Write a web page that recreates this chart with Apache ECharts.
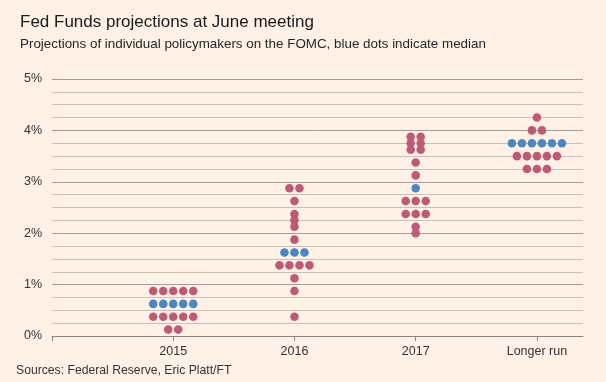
<!DOCTYPE html>
<html>
<head>
<meta charset="utf-8">
<script src="https://cdn.jsdelivr.net/npm/echarts@6/dist/echarts.min.js"></script>
<style>
html,body{margin:0;padding:0;background:#fff1e5;}
#chart{width:606px;height:382px;}
</style>
</head>
<body>
<div id="chart"></div>
<script>
// Categories (x axis)
const categories = ['2015', '2016', '2017', 'Longer run'];
// Individual policymaker projections (%), one entry per dot
const dots2015 = [0.125, 0.125, 0.375, 0.375, 0.375, 0.375, 0.375, 0.625, 0.625, 0.625, 0.625, 0.625, 0.875, 0.875, 0.875, 0.875, 0.875];
const dots2016 = [0.375, 0.875, 1.125, 1.375, 1.375, 1.375, 1.375, 1.625, 1.625, 1.625, 1.875, 2.125, 2.25, 2.375, 2.625, 2.875, 2.875];
const dots2017 = [2.0, 2.125, 2.375, 2.375, 2.375, 2.625, 2.625, 2.625, 2.875, 3.125, 3.375, 3.625, 3.625, 3.75, 3.75, 3.875, 3.875];
const dotsLonger = [3.25, 3.25, 3.25, 3.5, 3.5, 3.5, 3.5, 3.5, 3.75, 3.75, 3.75, 3.75, 3.75, 3.75, 4.0, 4.0, 4.25];
// Median level per category (blue dots)
const medians = [0.625, 1.625, 2.875, 3.75];
// Y tick labels
const yTicks = [0, 1, 2, 3, 4, 5];

const allDots = [dots2015, dots2016, dots2017, dotsLonger];
const PINK = '#be5b74', BLUE = '#4c87bf';
const data = [];
allDots.forEach((vals, ci) => {
  const groups = {};
  vals.forEach(v => { (groups[v] = groups[v] || []).push(v); });
  Object.keys(groups).forEach(k => {
    const n = groups[k].length;
    const level = Number(k);
    for (let j = 0; j < n; j++) {
      data.push({
        value: [ci, level],
        symbolOffset: [(j - (n - 1) / 2) * 10, 0],
        itemStyle: { color: level === medians[ci] ? BLUE : PINK }
      });
    }
  });
});

const FONT = "'Liberation Sans Narrow', 'Liberation Sans', sans-serif";
const dark = '#a39d98', light = '#c7c1bb';
const chart = echarts.init(document.getElementById('chart'));
chart.setOption({
  backgroundColor: '#fff1e5',
  animation: false,
  textStyle: { fontFamily: FONT },
  title: {
    text: 'Fed Funds projections at June meeting',
    subtext: 'Projections of individual policymakers on the FOMC, blue dots indicate median',
    left: 15, top: 9, itemGap: 7,
    textStyle: { fontFamily: FONT, fontSize: 17, fontWeight: 'normal', color: '#1a1a1a' },
    subtextStyle: { fontFamily: FONT, fontSize: 13.4, color: '#262626' }
  },
  graphic: [{
    type: 'text', left: 16, top: 365,
    style: { text: 'Sources: Federal Reserve, Eric Platt/FT', fontFamily: FONT, fontSize: 12.2, fill: '#333' }
  }],
  grid: { left: 52, right: 23, top: 79, bottom: 46 },
  xAxis: {
    type: 'value', min: -1, max: 3.38, interval: 1,
    axisLine: { show: true, lineStyle: { color: '#8a8480', width: 1 } },
    axisTick: { show: true, length: 5, lineStyle: { color: '#8a8480' }, customValues: [-1, 0, 1, 2, 3] },
    axisLabel: { customValues: [0, 1, 2, 3], formatter: v => categories[Math.round(v)] || '', color: '#333', fontSize: 12.5, margin: 9, fontFamily: FONT },
    splitLine: { show: false }
  },
  yAxis: {
    type: 'value', min: 0, max: 5, interval: 0.25,
    axisLine: { show: false }, axisTick: { show: false },
    axisLabel: { customValues: yTicks, formatter: v => v + '%', color: '#333', fontSize: 12.5, margin: 10, fontFamily: FONT },
    splitLine: { show: true, lineStyle: { color: [dark, light, light, light], width: 1 } }
  },
  series: [{
    type: 'scatter',
    symbol: 'circle',
    symbolSize: 8.6,
    data: data,
    itemStyle: { opacity: 1 }
  }]
});
</script>
</body>
</html>
